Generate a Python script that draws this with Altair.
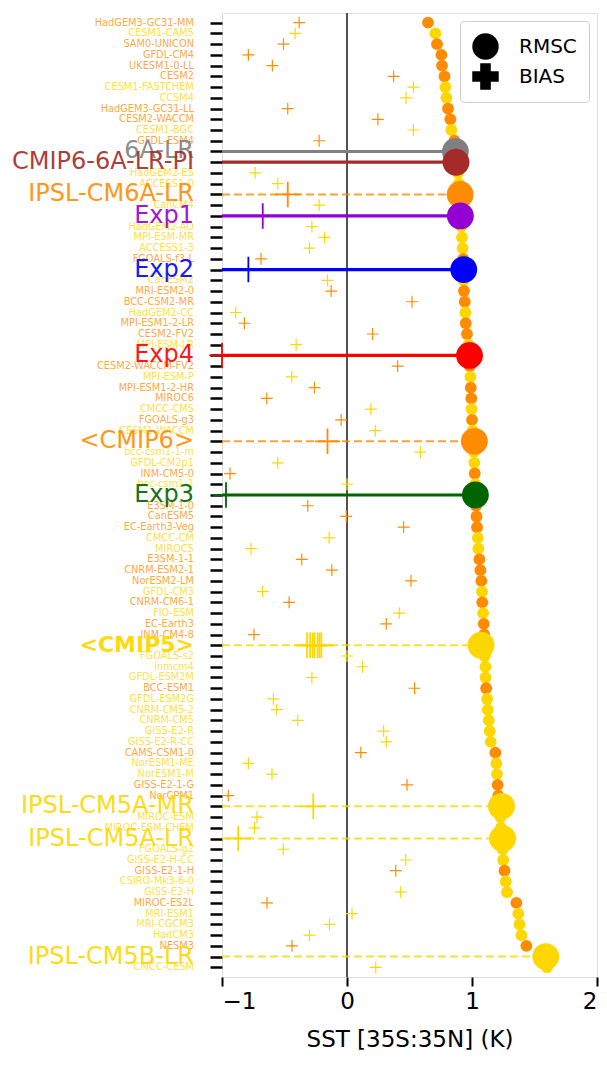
import altair as alt
import pandas as pd

# Models, top to bottom, ordered by RMSC
models = [
    "HadGEM3-GC31-MM", "CESM1-CAM5", "SAM0-UNICON", "GFDL-CM4", "UKESM1-0-LL",
    "CESM2", "CESM1-FASTCHEM", "CCSM4", "HadGEM3-GC31-LL", "CESM2-WACCM",
    "CESM1-BGC", "GFDL-ESM4", "6A-LR", "CMIP6-6A-LR-PI", "HadGEM2-ES",
    "ACCESS1-0", "IPSL-CM6A-LR", "CanCM4", "Exp1", "HadGEM2-AO",
    "MPI-ESM-MR", "ACCESS1-3", "FGOALS-f3-L", "Exp2", "CanESM2",
    "MRI-ESM2-0", "BCC-CSM2-MR", "HadGEM2-CC", "MPI-ESM1-2-LR", "CESM2-FV2",
    "MPI-ESM-LR", "Exp4", "CESM2-WACCM-FV2", "MPI-ESM-P", "MPI-ESM1-2-HR",
    "MIROC6", "CMCC-CMS", "FGOALS-g3", "CESM1-WACCM", "<CMIP6>",
    "bcc-csm1-1-m", "GFDL-CM2p1", "INM-CM5-0", "bcc-csm1-1", "Exp3",
    "E3SM-1-0", "CanESM5", "EC-Earth3-Veg", "CMCC-CM", "MIROC5",
    "E3SM-1-1", "CNRM-ESM2-1", "NorESM2-LM", "GFDL-CM3", "CNRM-CM6-1",
    "FIO-ESM", "EC-Earth3", "INM-CM4-8", "<CMIP5>", "FGOALS-s2",
    "inmcm4", "GFDL-ESM2M", "BCC-ESM1", "GFDL-ESM2G", "CNRM-CM5-2",
    "CNRM-CM5", "GISS-E2-R", "GISS-E2-R-CC", "CAMS-CSM1-0", "NorESM1-ME",
    "NorESM1-M", "GISS-E2-1-G", "NorCPM1", "IPSL-CM5A-MR", "MIROC-ESM",
    "MIROC-ESM-CHEM", "IPSL-CM5A-LR", "FGOALS-g2", "GISS-E2-H-CC", "GISS-E2-1-H",
    "CSIRO-Mk3-6-0", "GISS-E2-H", "MIROC-ES2L", "MRI-ESM1", "MRI-CGCM3",
    "HadCM3", "NESM3", "IPSL-CM5B-LR", "CMCC-CESM",
]

# "6" = CMIP6 model, "5" = CMIP5 model, "H" = highlighted entry
project = [
    "6", "5", "6", "6", "6", "6", "5", "5", "6", "6",
    "5", "6", "H", "H", "5", "5", "H", "5", "H", "5",
    "5", "5", "6", "H", "5", "6", "6", "5", "6", "6",
    "5", "H", "6", "5", "6", "6", "5", "6", "5", "H",
    "5", "5", "6", "5", "H", "6", "6", "6", "5", "5",
    "6", "6", "6", "5", "6", "5", "6", "6", "H", "5",
    "5", "5", "6", "5", "5", "5", "5", "5", "6", "5",
    "5", "6", "6", "H", "5", "5", "H", "5", "5", "6",
    "5", "5", "6", "5", "5", "5", "6", "H", "5",
]

rmsc = [
    0.648, 0.707, 0.720, 0.755, 0.760, 0.780, 0.787, 0.795, 0.808, 0.827,
    0.835, 0.859, 0.867, 0.872, 0.888, 0.895, 0.905, 0.910, 0.907, 0.915,
    0.920, 0.925, 0.930, 0.934, 0.932, 0.936, 0.942, 0.947, 0.950, 0.960,
    0.972, 0.980, 0.982, 0.987, 0.990, 0.994, 0.996, 1.000, 1.006, 1.019,
    1.015, 1.019, 1.022, 1.027, 1.027, 1.032, 1.036, 1.040, 1.047, 1.050,
    1.059, 1.067, 1.075, 1.080, 1.082, 1.089, 1.094, 1.097, 1.073, 1.102,
    1.107, 1.108, 1.113, 1.121, 1.126, 1.134, 1.142, 1.150, 1.187, 1.195,
    1.200, 1.205, 1.210, 1.236, 1.228, 1.232, 1.245, 1.245, 1.250, 1.260,
    1.270, 1.280, 1.355, 1.370, 1.380, 1.395, 1.435, 1.590, 1.600,
]

bias = [
    -0.383, -0.415, -0.508, -0.789, -0.597, 0.373, 0.531, 0.472, -0.474, 0.247,
    0.531, -0.223, None, None, -0.735, -0.554, -0.474, -0.223, -0.674, -0.281,
    -0.180, -0.300, -0.688, -0.789, -0.156, -0.127, 0.520, -0.890, -0.821, 0.205,
    -0.407, -1.000, 0.405, -0.442, -0.260, -0.642, 0.191, -0.047, 0.226, -0.156,
    0.587, -0.554, -0.936, 0.000, -0.968, -0.314, -0.006, 0.453, -0.143, -0.768,
    -0.362, -0.121, 0.512, -0.674, -0.463, 0.418, 0.314, -0.744, -0.260, 0.000,
    0.124, -0.281, 0.541, -0.589, -0.562, -0.394, 0.293, 0.314, 0.111, -0.789,
    -0.600, 0.480, -0.950, -0.270, -0.720, -0.740, -0.870, -0.510, 0.470, 0.390,
    None, 0.430, -0.640, 0.040, -0.140, -0.300, -0.440, None, 0.230,
]

# extra BIAS markers drawn on the <CMIP5> row
cmip5_member_bias = [-0.320, -0.295, -0.275, -0.235, -0.220, -0.205]

ORANGE = "#ff8c00"
GOLD = "#ffd700"
FONT = "DejaVu Sans"

highlight_style = {
    "6A-LR": ("#808080", "solid"),
    "CMIP6-6A-LR-PI": ("#a52a2a", "solid"),
    "IPSL-CM6A-LR": (ORANGE, "dashed"),
    "Exp1": ("#9400d3", "solid"),
    "Exp2": ("#0000ff", "solid"),
    "Exp4": ("#ff0000", "solid"),
    "<CMIP6>": (ORANGE, "dashed"),
    "Exp3": ("#006400", "solid"),
    "<CMIP5>": (GOLD, "dashed"),
    "IPSL-CM5A-MR": (GOLD, "dashed"),
    "IPSL-CM5A-LR": (GOLD, "dashed"),
    "IPSL-CM5B-LR": (GOLD, "dashed"),
}

rows = []
for m, p, r, b in zip(models, project, rmsc, bias):
    if p == "H":
        color, line = highlight_style[m]
    else:
        color, line = (ORANGE if p == "6" else GOLD), "none"
    rows.append(dict(model=m, project=p, rmsc=r, bias=b, color=color,
                     line=line, start=-1.0))
df = pd.DataFrame(rows)
members = pd.DataFrame({"model": "<CMIP5>", "bias": cmip5_member_bias,
                        "color": GOLD})

xs = alt.Scale(domain=[-1, 2], nice=False, zero=False)
xaxis = alt.Axis(values=[-1, 0, 1, 2], title="SST [35S:35N] (K)",
                 grid=False, domain=False, tickColor="black", tickSize=9,
                 tickWidth=2, labelFontSize=23, titleFontSize=23,
                 labelColor="black", titleColor="black", labelPadding=4,
                 titlePadding=15, titleFontWeight="normal",
                 labelFont=FONT, titleFont=FONT)
Y = alt.Y("model:N",
          scale=alt.Scale(type="point", domain=models, padding=0.9),
          axis=alt.Axis(labels=False, title=None, ticks=True, tickSize=12,
                        tickWidth=2.5, tickColor="black", domain=False,
                        grid=False))
C = alt.Color("color:N", scale=None)
PLUS = "M-1,0H1M0,-1V1"

base = alt.Chart(df)
small = base.transform_filter("datum.project != 'H'")
hl = base.transform_filter("datum.project == 'H'")

zero = alt.Chart(pd.DataFrame({"x": [0]})).mark_rule(
    color="#333333", strokeWidth=1.7
).encode(x=alt.X("x:Q", scale=xs, axis=xaxis))

lines_solid = hl.transform_filter("datum.line == 'solid'").mark_rule(
    strokeWidth=3.2
).encode(x=alt.X("start:Q", scale=xs, axis=xaxis), x2="rmsc:Q", y=Y, color=C)

lines_dashed = hl.transform_filter("datum.line == 'dashed'").mark_rule(
    strokeWidth=2, strokeDash=[8, 4], opacity=0.8
).encode(x=alt.X("start:Q", scale=xs, axis=xaxis), x2="rmsc:Q", y=Y, color=C)

small_bias = small.transform_filter("isValid(datum.bias)").mark_point(
    shape=PLUS, filled=False, size=140, strokeWidth=1.2, opacity=1
).encode(x=alt.X("bias:Q", scale=xs, axis=xaxis), y=Y, color=C)

small_dots = small.mark_circle(size=140, opacity=1).encode(
    x=alt.X("rmsc:Q", scale=xs, axis=xaxis), y=Y, color=C)

big_dots = hl.mark_circle(size=720, opacity=1).encode(
    x=alt.X("rmsc:Q", scale=xs, axis=xaxis), y=Y, color=C)

big_bias = hl.transform_filter("isValid(datum.bias)").mark_point(
    shape=PLUS, filled=False, size=650, strokeWidth=1.8, opacity=1
).encode(x=alt.X("bias:Q", scale=xs, axis=xaxis), y=Y, color=C)

member_bias = alt.Chart(members).mark_point(
    shape=PLUS, filled=False, size=650, strokeWidth=1.8, opacity=1
).encode(x=alt.X("bias:Q", scale=xs, axis=xaxis), y=Y, color=C)

small_labels = small.mark_text(
    align="right", baseline="middle", font=FONT, fontSize=9.8, opacity=0.75
).encode(x=alt.value(-28), y=Y, text="model:N", color=C)

big_labels = hl.transform_filter("datum.model != '<CMIP5>'").mark_text(
    align="right", baseline="middle", font=FONT, fontSize=24, opacity=0.9
).encode(x=alt.value(-28), y=Y, text="model:N", color=C)

bold_label = hl.transform_filter("datum.model == '<CMIP5>'").mark_text(
    align="right", baseline="middle", font=FONT, fontSize=22,
    fontWeight="bold", opacity=0.95
).encode(x=alt.value(-28), y=Y, text="model:N", color=C)

legend_layer = alt.Chart(pd.DataFrame({"k": ["RMSC", "BIAS"]})).mark_point(
    filled=True, color="black", opacity=0
).encode(
    x=alt.value(0), y=alt.value(0),
    shape=alt.Shape("k:N",
                    scale=alt.Scale(domain=["RMSC", "BIAS"],
                                    range=["circle", "cross"]),
                    legend=alt.Legend(
                        title=None, orient="top-right", offset=8,
                        padding=12, cornerRadius=4, strokeColor="#cccccc",
                        fillColor="white", symbolSize=700,
                        symbolFillColor="black", symbolStrokeColor="black",
                        symbolOpacity=1, symbolStrokeWidth=0,
                        labelFontSize=20, labelFont=FONT, labelColor="black",
                        labelOffset=20, rowPadding=3)),
)

chart = alt.layer(
    zero, lines_solid, lines_dashed, small_bias, small_dots, big_dots,
    big_bias, member_bias, small_labels, big_labels, bold_label, legend_layer,
).properties(
    width=375, height=964,
    padding={"left": 222, "top": 13, "right": 10, "bottom": 108},
    autosize=alt.AutoSizeParams(type="none"),
).configure_view(
    stroke="black", strokeWidth=2.5
).configure(font=FONT)

chart.save("out.html", embed_options={"renderer": "svg", "actions": False})
